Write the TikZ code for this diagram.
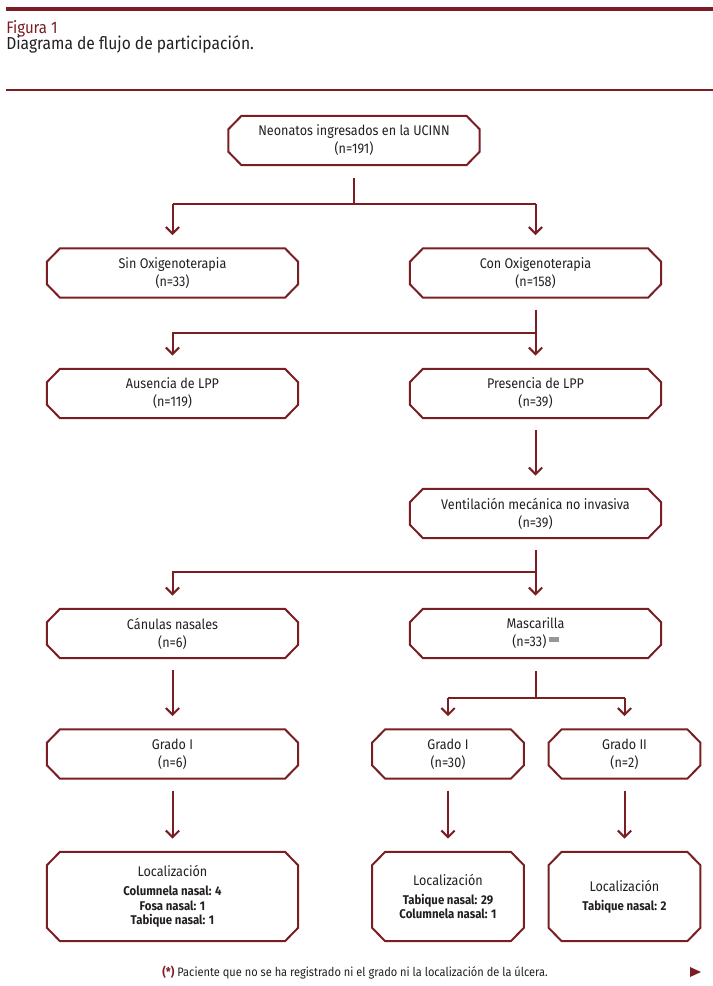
\documentclass[tikz,border=0pt]{standalone}
\usepackage{fontspec}
\setmainfont{Fira Sans}[FakeStretch=0.9]
\usetikzlibrary{arrows.meta}

\definecolor{granate}{RGB}{122,30,36}
\definecolor{texto}{RGB}{35,31,32}
\definecolor{gris}{RGB}{150,150,150}

\newcommand{\lugar}{\fontsize{9.5}{11}\bfseries\selectfont}

\tikzset{
  caja/.style={rectangle, minimum height=36.5pt, inner sep=0pt, align=center,
    text=texto, font=\fontsize{10.5}{13.5}\selectfont},
  ancha/.style={caja, minimum width=188pt},
  estrecha/.style={caja, minimum width=113.5pt},
  alta/.style={minimum height=66.5pt},
  linea/.style={draw=granate, line width=1.5pt},
  borde/.style={linea, line join=miter},
  flecha/.style={linea, -{Straight Barb[length=5pt,width=10pt]}, shorten >=10pt},
}

\begin{document}
\begin{tikzpicture}[x=0.75pt,y=0.75pt,yscale=-1,xscale=1]
\useasboundingbox (0,0) rectangle (713,986);

% Cabecera
\draw [granate, line width=3pt] (6,9) -- (713,9);
\draw [granate, line width=1.1pt] (6,90) -- (713,90);
\node (fig) [anchor=base west, inner sep=0pt, text=granate, font=\fontsize{12.5}{15}\selectfont] at (6,33) {Figura 1};
\node (tit) [anchor=base west, inner sep=0pt, text=texto, font=\fontsize{13}{15}\selectfont] at (6,49) {Diagrama de flujo de participación.};

% Cajas
\node (neo)  [ancha] at (354,140.5) {Neonatos ingresados en la UCINN\\(n=191)};
\node (sin)  [ancha] at (172.5,273) {Sin Oxigenoterapia\\(n=33)};
\node (con)  [ancha] at (535.5,273) {Con Oxigenoterapia\\(n=158)};
\node (aus)  [ancha] at (172.5,393.5) {Ausencia de LPP\\(n=119)};
\node (pres) [ancha] at (535.5,393.5) {Presencia de LPP\\(n=39)};
\node (vmni) [ancha] at (535.5,513.5) {Ventilación mecánica no invasiva\\(n=39)};
\node (can)  [ancha] at (172.5,633.5) {Cánulas nasales\\(n=6)};
\node (masc) [ancha] at (535.5,633.5) {Mascarilla\\(n=33)\,\textcolor{gris}{\rule[4pt]{7.5pt}{3.5pt}}};
\node (gra)  [ancha] at (172.5,754) {Grado I\\(n=6)};
\node (grb)  [estrecha] at (448,754) {Grado I\\(n=30)};
\node (grc)  [estrecha] at (624.5,754) {Grado II\\(n=2)};
\node (loca) [ancha, alta] at (172.5,896.5) {Localización\\[1pt]\lugar Columnela nasal: 4\\[-2.6pt]\lugar Fosa nasal: 1\\[-2.6pt]\lugar Tabique nasal: 1};
\node (locb) [estrecha, alta] at (448,896.5) {Localización\\[1pt]\lugar Tabique nasal: 29\\[-2.6pt]\lugar Columnela nasal: 1};
\node (locc) [estrecha, alta] at (624.5,896.5) {Localización\\[1pt]\lugar Tabique nasal: 2};

% Bordes achaflanados (yscale=-1: yshift positivo baja)
\foreach \c in {neo,sin,con,aus,pres,vmni,can,masc,gra,grb,grc,loca,locb,locc}
  \draw [borde] ([xshift=9.75pt]\c.north west) -- ([xshift=-9.75pt]\c.north east)
    -- ([yshift=10pt]\c.north east) -- ([yshift=-10pt]\c.south east)
    -- ([xshift=-9.75pt]\c.south east) -- ([xshift=9.75pt]\c.south west)
    -- ([yshift=-10pt]\c.south west) -- ([yshift=10pt]\c.north west) -- cycle;

% Ramas
\coordinate (r1) at (354,204);
\coordinate (r2) at (535.5,333);
\coordinate (r3) at (535.5,572);
\coordinate (r4) at (535.5,698);

\draw [linea] ([yshift=9.5pt]neo.south) -- (r1);
\draw [linea] (r1 -| sin) -- (r1 -| con);
\draw [flecha] (r1 -| sin) -- (sin.north);
\draw [flecha] (r1 -| con) -- (con.north);

\draw [flecha, shorten <=9pt] (con.south) -- (pres.north);
\draw [flecha] (r2) -| (aus.north);

\draw [flecha, shorten <=9pt] (pres.south) -- (vmni.north);

\draw [flecha, shorten <=9pt] (vmni.south) -- (masc.north);
\draw [flecha] (r3) -| (can.north);

\draw [linea] ([yshift=10pt]masc.south) -- (r4);
\draw [linea] (r4 -| grb) -- (r4 -| grc);
\draw [flecha] (r4 -| grb) -- (grb.north);
\draw [flecha] (r4 -| grc) -- (grc.north);

\draw [flecha, shorten <=9pt] (can.south) -- (gra.north);
\draw [flecha, shorten <=9pt] (gra.south) -- (loca.north);
\draw [flecha, shorten <=9pt] (grb.south) -- (locb.north);
\draw [flecha, shorten <=9pt] (grc.south) -- (locc.north);

% Nota
\node (nota) [inner sep=0pt, text=texto, font=\fontsize{9.2}{11}\selectfont] at (355,973)
  {\textcolor{granate}{\bfseries(*)} Paciente que no se ha registrado ni el grado ni la localización de la úlcera.};
\fill [granate] (690,967) -- (701,972) -- (690,977) -- cycle;
\end{tikzpicture}
\end{document}
